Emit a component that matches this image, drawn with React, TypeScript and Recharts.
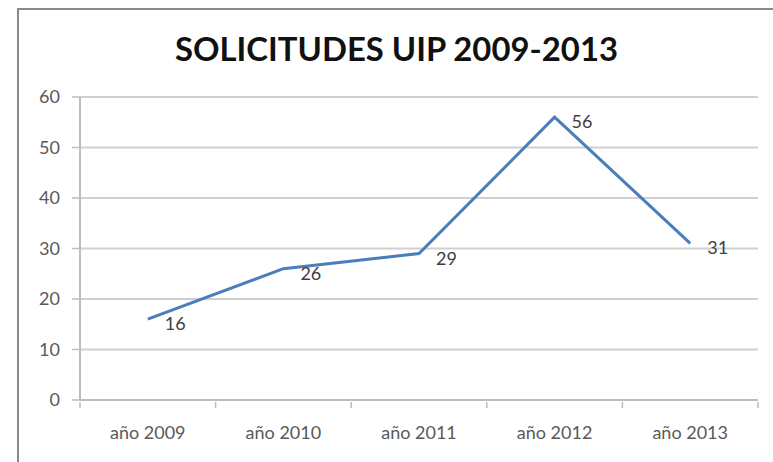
import React from "react";
import {
  LineChart,
  Line,
  XAxis,
  YAxis,
  CartesianGrid,
  LabelList,
} from "recharts";

const years = ["año 2009", "año 2010", "año 2011", "año 2012", "año 2013"];
const solicitudes = [16, 26, 29, 56, 31];
const yTicks = [0, 10, 20, 30, 40, 50, 60];

const FONT = "Lato, 'Open Sans', sans-serif";
const AXIS_GRAY = "#bdbdbd";

const CHART_W = 773;
const CHART_H = 462;
const MARGIN = { top: 97, right: 15, bottom: 22, left: 0 };
const Y_AXIS_W = 80;
const X_AXIS_H = 40;
// width of one category slot, used for the Excel-style boundary tick marks
const plotW = CHART_W - MARGIN.left - MARGIN.right - Y_AXIS_W;
const slot = plotW / years.length;

type LabelProps = {
  x?: number;
  y?: number;
  value?: number | string;
};

const ValueLabel = ({ x = 0, y = 0, value }: LabelProps) => (
  <text
    x={x + 17}
    y={y + 4}
    fill="#404040"
    fontSize={18}
    fontFamily={FONT}
    dominantBaseline="central"
  >
    {value}
  </text>
);

type TickProps = {
  x?: number;
  y?: number;
  index?: number;
  payload?: { value: string };
};

const YearTick = ({ x = 0, y = 0, index = 0, payload }: TickProps) => {
  const left = x - slot / 2;
  const right = x + slot / 2;
  return (
    <g>
      <line x1={left} x2={left} y1={y} y2={y + 6} stroke={AXIS_GRAY} strokeWidth={1.5} />
      {index === years.length - 1 && (
        <line x1={right} x2={right} y1={y} y2={y + 6} stroke={AXIS_GRAY} strokeWidth={1.5} />
      )}
      <text
        x={x}
        y={y + 37}
        textAnchor="middle"
        fill="#595959"
        fontSize={18}
        fontFamily={FONT}
      >
        {payload?.value}
      </text>
    </g>
  );
};

const App = () => {
  const data = years.map((year, i) => ({ year, value: solicitudes[i] }));

  return (
    <div
      style={{
        position: "absolute",
        left: 0,
        top: 0,
        width: CHART_W,
        height: CHART_H,
        overflow: "hidden",
        background: "#fff",
      }}
    >
      {/* outer frame, runs off the right and bottom edges */}
      <div
        style={{
          position: "absolute",
          left: 17,
          top: 8,
          width: 800,
          height: 500,
          border: "2px solid #8a8a8a",
          boxSizing: "border-box",
        }}
      />

      <svg
        width={CHART_W}
        height={90}
        style={{ position: "absolute", left: 0, top: 0 }}
      >
        <text
          x={175}
          y={61}
          fontFamily={FONT}
          fontWeight="bold"
          fontSize={33}
          fill="#111"
          textLength={443}
          lengthAdjust="spacingAndGlyphs"
        >
          SOLICITUDES UIP 2009-2013
        </text>
      </svg>

      <div style={{ position: "absolute", left: 0, top: 0 }}>
        <LineChart width={CHART_W} height={CHART_H} data={data} margin={MARGIN}>
          <CartesianGrid vertical={false} stroke="#d0d0d0" strokeWidth={2} />
          <XAxis
            dataKey="year"
            height={X_AXIS_H}
            padding={{ left: slot / 2, right: slot / 2 }}
            axisLine={{ stroke: AXIS_GRAY, strokeWidth: 2 }}
            tickLine={false}
            tickSize={0}
            interval={0}
            tick={<YearTick />}
          />
          <YAxis
            width={Y_AXIS_W}
            domain={[0, 60]}
            ticks={yTicks}
            interval={0}
            tickSize={8}
            tickMargin={12}
            axisLine={{ stroke: AXIS_GRAY, strokeWidth: 2 }}
            tickLine={{ stroke: AXIS_GRAY, strokeWidth: 1.5 }}
            tick={{ fill: "#595959", fontSize: 18, fontFamily: FONT }}
          />
          <Line
            dataKey="value"
            stroke="#4a7ebb"
            strokeWidth={3}
            dot={false}
            isAnimationActive={false}
          >
            <LabelList dataKey="value" content={ValueLabel as any} />
          </Line>
        </LineChart>
      </div>
    </div>
  );
};

export default App;
